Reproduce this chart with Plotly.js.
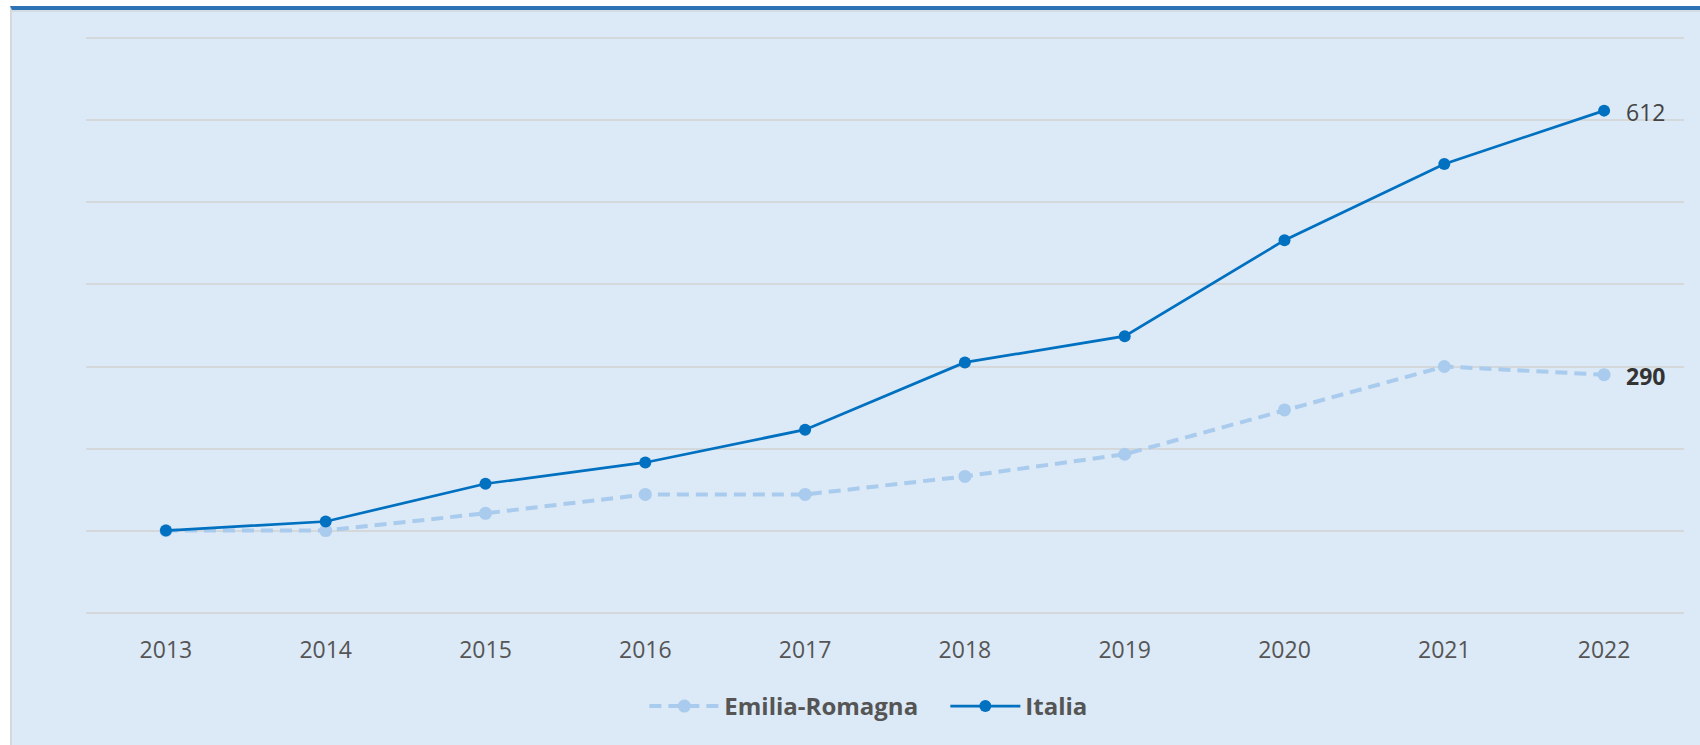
<!DOCTYPE html>
<html>
<head>
<meta charset="utf-8">
<script src="https://cdn.plot.ly/plotly-3.0.1.min.js"></script>
<style>
  html, body { margin: 0; padding: 0; background: #ffffff; }
  #frame { position: absolute; left: 10px; top: 6px; width: 1700px; height: 760px;
           background: #dce9f6; border-top: 4px solid #2e74b5; border-left: 2px solid #d6d9dc;
           box-shadow: inset 0 2px 0 #d3dbe3; }
  #chart { position: absolute; left: 0; top: 0; width: 1700px; height: 745px; }
</style>
</head>
<body>
<div id="frame"></div>
<div id="chart"></div>
<script>
const years = ['2013','2014','2015','2016','2017','2018','2019','2020','2021','2022'];
const emiliaRomagna = [100, 100, 121, 144, 144, 166, 193, 247, 300, 290];
const italia = [100, 111, 157, 183, 223, 305, 337, 454, 547, 612];
const seriesNames = ['Emilia-Romagna', 'Italia'];

const FONT = '"Open Sans", "Noto Sans", sans-serif';
const last = years.length - 1;

const traces = [
  {
    x: years, y: emiliaRomagna, name: seriesNames[0], type: 'scatter', mode: 'lines+markers',
    line: { color: '#a9cbed', width: 4, dash: '12px,7px' },
    marker: { color: '#a9cbed', size: 13 },
    hoverinfo: 'x+y+name'
  },
  {
    x: years, y: italia, name: seriesNames[1], type: 'scatter', mode: 'lines+markers',
    line: { color: '#0070c0', width: 2.7 },
    marker: { color: '#0070c0', size: 12 },
    hoverinfo: 'x+y+name'
  }
];

const annotations = [
  { xref: 'x', yref: 'y', x: last, y: italia[last], text: String(italia[last]),
    showarrow: false, xanchor: 'left', yanchor: 'middle', xshift: 20, yshift: -1,
    font: { family: FONT, size: 23, color: '#444444' } },
  { xref: 'x', yref: 'y', x: last, y: emiliaRomagna[last], text: '<b>' + emiliaRomagna[last] + '</b>',
    showarrow: false, xanchor: 'left', yanchor: 'middle', xshift: 20, yshift: -1,
    font: { family: FONT, size: 23, color: '#333333' } }
];

const layout = {
  width: 1700, height: 745,
  paper_bgcolor: 'rgba(0,0,0,0)', plot_bgcolor: 'rgba(0,0,0,0)',
  margin: { l: 86, r: 16, t: 36, b: 130 },
  font: { family: FONT, color: '#555555' },
  showlegend: true,
  legend: {
    orientation: 'h', x: 0.3494, xanchor: 'left', y: -0.158, yanchor: 'middle',
    itemwidth: 70, entrywidth: 216, traceorder: 'normal',
    font: { family: FONT, size: 24, color: '#555555', weight: 'bold' },
    bgcolor: 'rgba(0,0,0,0)'
  },
  xaxis: {
    type: 'category', range: [-0.5, 9.5], showgrid: false, zeroline: false, showline: false,
    ticks: '', tickfont: { family: FONT, size: 23, color: '#555555' }, ticklabelstandoff: 19,
    fixedrange: true
  },
  yaxis: {
    range: [-3, 703], dtick: 100, tick0: 0, showgrid: true, gridcolor: '#d5d8db', gridwidth: 2,
    zeroline: false, showline: false, showticklabels: false, ticks: '', fixedrange: true
  },
  annotations: annotations
};

Plotly.newPlot('chart', traces, layout, { displayModeBar: false, staticPlot: true });
</script>
</body>
</html>
